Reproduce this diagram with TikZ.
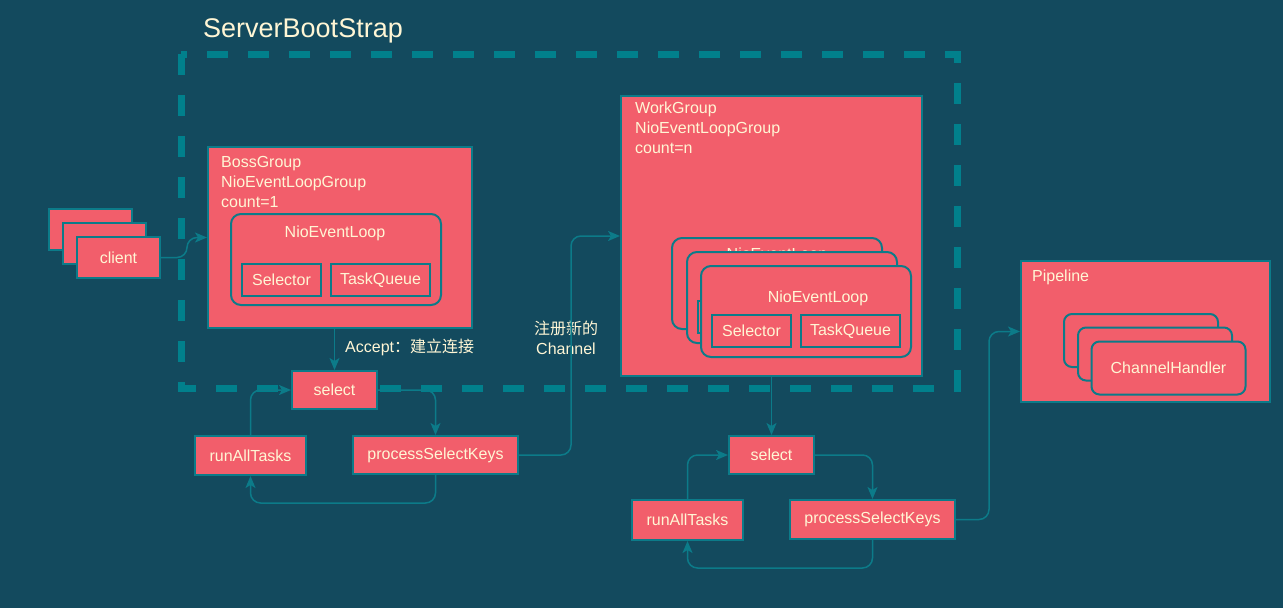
\documentclass[tikz,border=0pt]{standalone}
\usepackage{fontspec}
\setmainfont{Liberation Sans}
\newfontfamily\cjk{Noto Sans CJK SC}
\usetikzlibrary{arrows.meta}
\definecolor{bg}{HTML}{134A5E}
\definecolor{boxred}{HTML}{F25E6B}
\definecolor{edge}{HTML}{0C7B89}
\definecolor{dashcol}{HTML}{01808C}
\definecolor{ink}{HTML}{FFF6D5}
\tikzset{
	box/.style={draw=edge, fill=boxred, line width=2pt, inner sep=0pt, text=ink, font=\fontsize{16}{20}\selectfont},
	loopbox/.style={box, rounded corners=10pt},
	txt/.style={text=ink, inner sep=0pt, font=\fontsize{16}{20}\selectfont},
	link/.style={draw=edge, line width=1.5pt, rounded corners=10pt, -{Stealth[length=12pt,width=10pt,inset=3pt]}},
}

\begin{document}
\begin{tikzpicture}[x=1pt,y=-1pt]
		%%%%% START %%%%%
		\fill[bg] (0,0) rectangle (1283,608);
		\useasboundingbox (0,0) rectangle (1283,608);
		
		\node[txt, anchor=west, font=\fontsize{27}{32}\selectfont] (title) at (203,31) {ServerBootStrap};
		\draw[dashcol, line width=7pt, dash pattern=on 21pt off 20pt] (181,54) rectangle (957,388);
		
		\node[box, minimum width=83pt, minimum height=41pt] (client3) at (90.5,229.5) {};
		\node[box, minimum width=83pt, minimum height=41pt] (client2) at (104.5,243.5) {};
		\node[box, minimum width=83pt, minimum height=41pt] (client) at (118.5,257.5) {client};
		
		\node[box, minimum width=264pt, minimum height=181pt] (boss) at (340,237.5) {};
		\node[txt, anchor=north west, align=left] (bosstext) at (221,156) {BossGroup\\NioEventLoopGroup\\count=1};
		\node[loopbox, minimum width=210pt, minimum height=91pt] (bossloop) at (336,259.5) {};
		\node[txt] (bossloopname) at (335,233) {NioEventLoop};
		\node[box, minimum width=79pt, minimum height=32pt] (bosssel) at (281.5,280) {Selector};
		\node[box, minimum width=99pt, minimum height=32pt] (bossqueue) at (380.5,280) {TaskQueue};
		
		\node[box, minimum width=301pt, minimum height=280pt] (work) at (771.5,236) {};
		\node[txt, anchor=north west, align=left] (worktext) at (635,102) {WorkGroup\\NioEventLoopGroup\\count=n};
		% back loops
		\node[loopbox, minimum width=210pt, minimum height=91pt] (wloop1) at (777,283.5) {};
		\node[txt] (wloopname1) at (777,255.5) {NioEventLoop};
		\node[loopbox, minimum width=210pt, minimum height=91pt] (wloop2) at (792,297.5) {};
		\node[box, minimum width=79pt, minimum height=32pt] (wsel2) at (737.5,317) {};
		% front loop
		\node[loopbox, minimum width=210pt, minimum height=91pt] (wloop3) at (806,311.5) {};
		\node[txt] (wloopname3) at (818,298) {NioEventLoop};
		\node[box, minimum width=79pt, minimum height=32pt] (wsel3) at (751.5,331) {Selector};
		\node[box, minimum width=99pt, minimum height=32pt] (wqueue3) at (850.5,331) {TaskQueue};
		
		\node[box, minimum width=249pt, minimum height=141pt] (pipe) at (1145.5,331.5) {};
		\node[txt, anchor=north west] (pipetext) at (1032,270) {Pipeline};
		\node[loopbox, rounded corners=8pt, minimum width=154pt, minimum height=53pt] (handler1) at (1141,340.5) {};
		\node[loopbox, rounded corners=8pt, minimum width=154pt, minimum height=53pt] (handler2) at (1155,354) {};
		\node[loopbox, rounded corners=8pt, minimum width=154pt, minimum height=53pt] (handler3) at (1168.5,368) {ChannelHandler};
		
		\node[box, minimum width=85pt, minimum height=38pt] (sel1) at (334.5,390) {select};
		\node[box, minimum width=165pt, minimum height=38pt] (psk1) at (435.5,455) {processSelectKeys};
		\node[box, minimum width=111pt, minimum height=39pt] (rat1) at (250.5,455.5) {runAllTasks};
		
		\node[box, minimum width=85pt, minimum height=38pt] (sel2) at (771.5,455) {select};
		\node[box, minimum width=165pt, minimum height=39pt] (psk2) at (872.5,519.5) {processSelectKeys};
		\node[box, minimum width=111pt, minimum height=40pt] (rat2) at (687.5,520) {runAllTasks};
		
		\node[txt, anchor=west] (accept) at (345,347) {Accept{\cjk ：建立连接}};
		\node[txt, align=center] (register) at (566,337.5) {{\cjk 注册新的}\\Channel};
		
		\draw[link] (client.east) -- ++(26,0) |- (boss.west);
		\draw[link] (sel1.north |- boss.south) -- (sel1.north);
		\draw[link] (sel1.east) -| (psk1.north);
		\draw[link] (psk1.south) -- ++(0,28) -| (rat1.south);
		\draw[link] (rat1.north) |- (sel1.west);
		\draw[link] (psk1.east) -- ++(52,0) |- (work.west);
		
		\draw[link] (work.south) -- (sel2.north);
		\draw[link] (sel2.east) -| (psk2.north);
		\draw[link] (psk2.south) -- ++(0,28) -| (rat2.south);
		\draw[link] (rat2.north) |- (sel2.west);
		\draw[link] (psk2.east) -- ++(33,0) |- (pipe.west);
		%%%%% END %%%%%
	\end{tikzpicture}
\end{document}
